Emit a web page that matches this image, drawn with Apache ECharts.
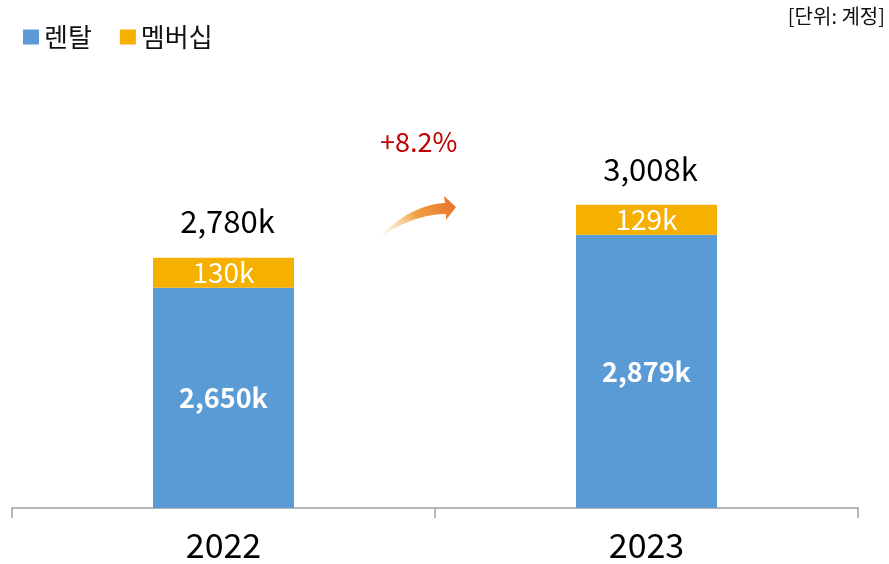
<!DOCTYPE html>
<html>
<head>
<meta charset="utf-8">
<script src="https://cdn.jsdelivr.net/npm/echarts@6/dist/echarts.min.js"></script>
<style>
  html, body { margin: 0; padding: 0; background: #fff; }
  #chart { width: 889px; height: 564px; }
</style>
</head>
<body>
<div id="chart"></div>
<script>
// 데이터 (단위: 천 계정)
const years = ['2022', '2023']
const rental = [2650, 2879]
const membership = [130, 129]
const totals = [2780, 3008]
const growthText = '+8.2%'

const FONT = '"Noto Sans CJK KR", "Noto Sans", sans-serif'
const fmt = (v) => v.toLocaleString('en-US') + 'k'

// 화살표 모양 (장식용 곡선)
const bez = (p0, p1, p2, p3, n) => {
  const pts = []
  for (let i = 0; i <= n; i++) {
    const t = i / n, u = 1 - t
    pts.push([
      u * u * u * p0[0] + 3 * u * u * t * p1[0] + 3 * u * t * t * p2[0] + t * t * t * p3[0],
      u * u * u * p0[1] + 3 * u * u * t * p1[1] + 3 * u * t * t * p2[1] + t * t * t * p3[1]
    ])
  }
  return pts
}
const upper = bez([379, 238], [400, 214], [425, 204], [445, 203], 16)
const lower = bez([446, 214], [425, 214], [402, 222], [379, 238], 16)
const arrowPts = upper.concat([[444, 196], [456, 207], [446, 220]], lower)

const chart = echarts.init(document.getElementById('chart'))

const option = {
  backgroundColor: '#fff',
  animation: false,
  textStyle: { fontFamily: FONT },
  legend: {
    data: ['렌탈', '멤버십'],
    left: 18, top: 19,
    icon: 'rect', itemWidth: 16, itemHeight: 15, itemGap: 28,
    textStyle: { fontSize: 26, color: '#111', fontFamily: FONT }
  },
  grid: { left: 12, right: 31, top: 100, bottom: 56 },
  xAxis: {
    type: 'category',
    data: years,
    axisLine: { lineStyle: { color: '#a0a0a0', width: 1.5 } },
    axisTick: { show: true, length: 10, lineStyle: { color: '#a0a0a0', width: 1.5 } },
    axisLabel: { fontSize: 34, color: '#000', margin: 20, fontFamily: FONT }
  },
  yAxis: {
    type: 'value',
    min: 1700, max: 3460,
    show: false,
    splitLine: { show: false }
  },
  series: [
    {
      name: '렌탈', type: 'bar', stack: 'total', barWidth: 141,
      itemStyle: { color: '#5b9bd5' },
      label: {
        show: true, position: 'inside', color: '#fff',
        fontSize: 27, fontWeight: 'bold', fontFamily: FONT,
        formatter: (p) => fmt(p.value)
      },
      data: rental
    },
    {
      name: '멤버십', type: 'bar', stack: 'total', barWidth: 141,
      itemStyle: { color: '#f5b000' },
      label: {
        show: true, position: 'inside', color: '#fff',
        fontSize: 28, fontFamily: FONT,
        formatter: (p) => fmt(p.value)
      },
      data: membership
    },
    {
      name: '합계', type: 'scatter', symbolSize: 1,
      itemStyle: { color: 'rgba(0,0,0,0)', opacity: 1 },
      label: {
        show: true, position: 'top', distance: 20, offset: [4, 0], color: '#000',
        fontSize: 31, fontWeight: 'normal', fontFamily: FONT,
        formatter: (p) => fmt(p.value)
      },
      data: totals
    }
  ],
  graphic: [
    {
      type: 'text', right: 4, top: 6,
      style: { text: '[단위: 계정]', fill: '#111', font: '20px ' + FONT }
    },
    {
      type: 'text', left: 380, top: 128,
      style: { text: growthText, fill: '#c00000', font: '27px ' + FONT }
    },
    {
      type: 'polygon',
      shape: { points: arrowPts },
      style: {
        fill: {
          type: 'linear', x: 0, y: 1, x2: 1, y2: 0,
          colorStops: [
            { offset: 0, color: 'rgba(250,225,160,0.1)' },
            { offset: 0.5, color: '#f0a040' },
            { offset: 1, color: '#e8702a' }
          ]
        }
      }
    }
  ]
}

chart.setOption(option)
</script>
</body>
</html>
